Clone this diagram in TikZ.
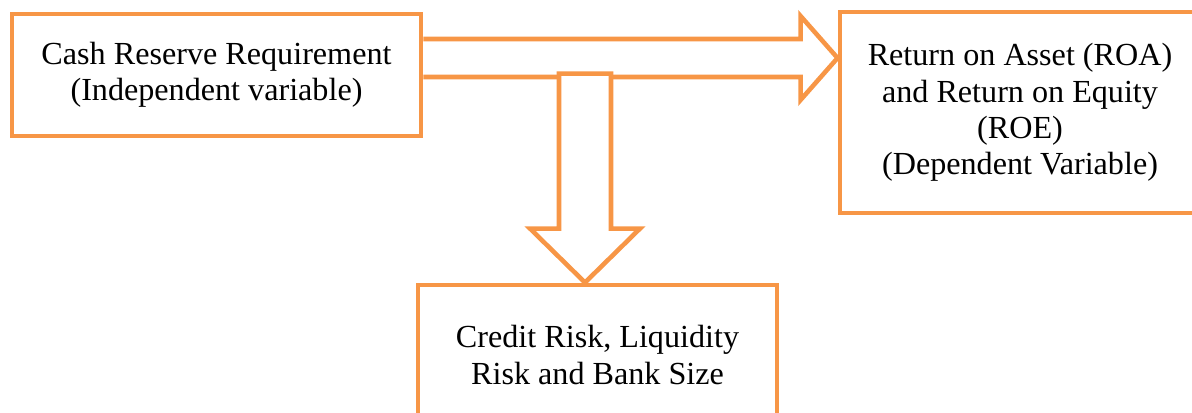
\documentclass[tikz,border=0pt]{standalone}
\usepackage{fontspec}
\setmainfont{Liberation Serif}
\newfontfamily\boxfont{Liberation Serif}
\usepackage{tikz}
\usetikzlibrary{positioning,calc}
\definecolor{boxorange}{HTML}{F79646}
\tikzset{
varbox/.style={draw=boxorange, line width=2.8pt, align=center, inner sep=0pt,
  font=\boxfont\fontsize{18.3}{20.6}\selectfont},
blockarrow/.style={draw=boxorange, line width=2.6pt, line join=miter, fill=white}
}
\begin{document}
\begin{tikzpicture}[x=0.02cm, y=-0.02cm]
\useasboundingbox (0,0) rectangle (1192,412);
\clip (0,0) rectangle (1192,412);

% variables
\node[varbox, minimum width=409*0.02cm, minimum height=122*0.02cm] (crr) at (216.5,75)
  {Cash Reserve Requirement\\(Independent variable)};
\node[varbox, minimum width=360*0.02cm, minimum height=201*0.02cm] (ret) at (1020,112.5)
  {Return on Asset (ROA)\\and Return on Equity\\(ROE)\\(Dependent Variable)};
\node[varbox, minimum width=359*0.02cm, minimum height=140*0.02cm] (risk) at (597.5,355)
  {Credit Risk, Liquidity\\Risk and Bank Size};

% crr -> ret
\coordinate (rtip) at (ret.west |- 0,58);
\draw[blockarrow] (crr.east |- 0,39) -- ($(rtip)+(-37,-19)$) -- ($(rtip)+(-37,-42)$)
  -- (rtip) -- ($(rtip)+(-37,42)$) -- ($(rtip)+(-37,19)$) -- (crr.east |- 0,77);

% crr -> risk
\coordinate (dtip) at (risk.north -| 585,0);
\draw[blockarrow] ($(dtip)+(-26,-209)$) -- ($(dtip)+(26,-209)$) -- ($(dtip)+(26,-54)$)
  -- ($(dtip)+(55,-54)$) -- (dtip) -- ($(dtip)+(-55,-54)$) -- ($(dtip)+(-26,-54)$) -- cycle;
\end{tikzpicture}
\end{document}
